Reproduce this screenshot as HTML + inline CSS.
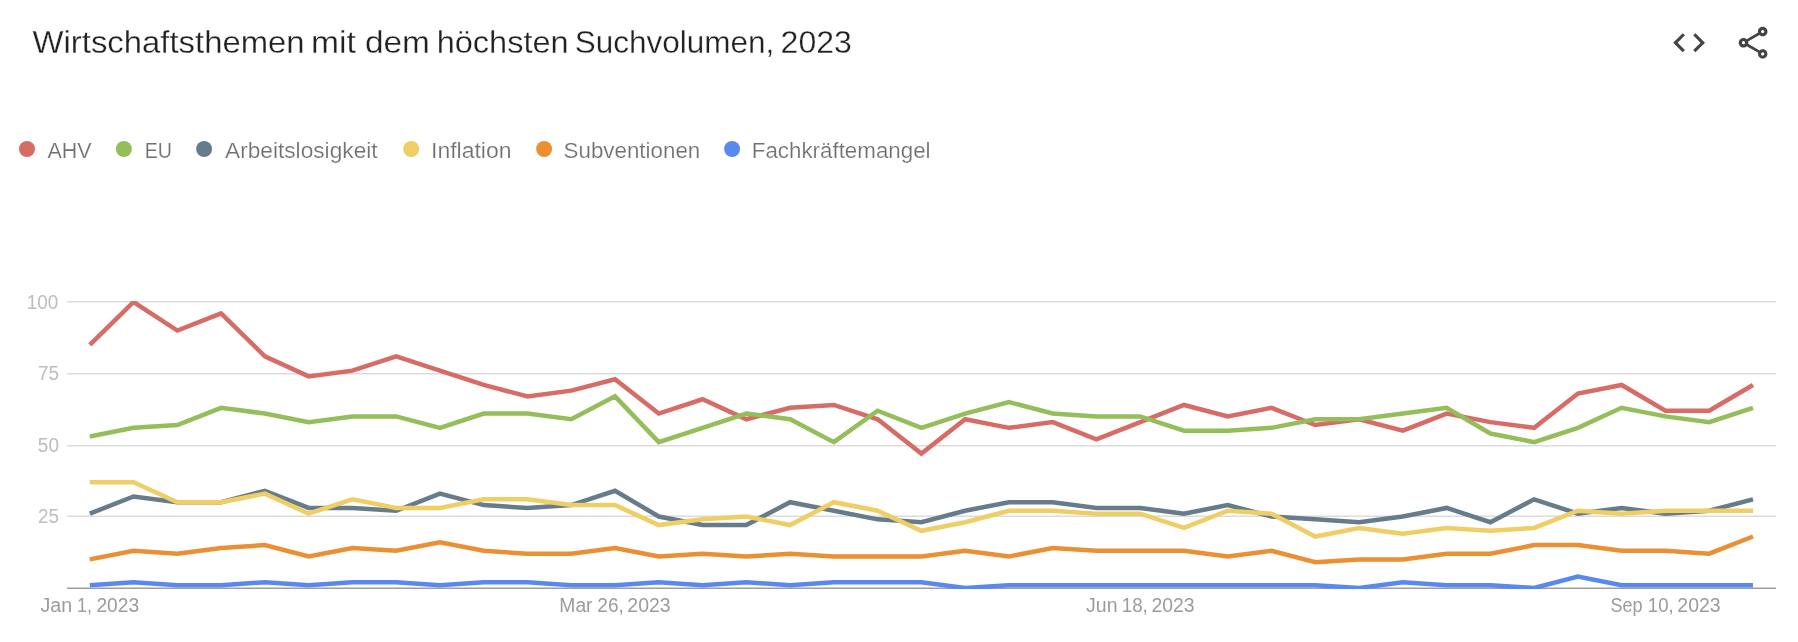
<!DOCTYPE html>
<html lang="de">
<head>
<meta charset="utf-8">
<title>Wirtschaftsthemen mit dem höchsten Suchvolumen, 2023</title>
<style>
html,body{margin:0;padding:0;background:#fff;}
body{width:1798px;height:642px;overflow:hidden;font-family:"Liberation Sans",sans-serif;}
svg{display:block;will-change:transform;}
text{font-family:"Liberation Sans",sans-serif;}
.title{font-size:31.6px;fill:#202124;stroke:#fff;stroke-width:0.3px;}
.leg{font-size:22.6px;fill:#707070;stroke:#fff;stroke-width:0.2px;}
.yl{font-size:19.3px;fill:#bdbdbd;}
.xl{font-size:19.6px;fill:#9c9c9c;}
.ln{fill:none;stroke-width:4.5;stroke-linejoin:miter;stroke-linecap:butt;}
</style>
</head>
<body>
<svg width="1798" height="642" viewBox="0 0 1798 642">
<rect width="1798" height="642" fill="#fff"/>
<text class="title" x="32.50" y="53.0" textLength="272.13" lengthAdjust="spacingAndGlyphs">Wirtschaftsthemen</text>
<text class="title" x="310.93" y="53.0" textLength="44.87" lengthAdjust="spacingAndGlyphs">mit</text>
<text class="title" x="365.01" y="53.0" textLength="64.93" lengthAdjust="spacingAndGlyphs">dem</text>
<text class="title" x="436.68" y="53.0" textLength="132.01" lengthAdjust="spacingAndGlyphs">höchsten</text>
<text class="title" x="574.77" y="53.0" textLength="199.55" lengthAdjust="spacingAndGlyphs">Suchvolumen,</text>
<text class="title" x="780.61" y="53.0" textLength="71.28" lengthAdjust="spacingAndGlyphs">2023</text>
<text class="leg" x="47.40" y="157.8" textLength="44.09" lengthAdjust="spacingAndGlyphs">AHV</text>
<text class="leg" x="144.73" y="157.8" textLength="27.26" lengthAdjust="spacingAndGlyphs">EU</text>
<text class="leg" x="225.00" y="157.8" textLength="152.60" lengthAdjust="spacingAndGlyphs">Arbeitslosigkeit</text>
<text class="leg" x="431.05" y="157.8" textLength="80.48" lengthAdjust="spacingAndGlyphs">Inflation</text>
<text class="leg" x="563.56" y="157.8" textLength="136.73" lengthAdjust="spacingAndGlyphs">Subventionen</text>
<text class="leg" x="751.77" y="157.8" textLength="178.80" lengthAdjust="spacingAndGlyphs">Fachkräftemangel</text>
<text class="yl" x="26.68" y="308.6" textLength="31.51" lengthAdjust="spacingAndGlyphs">100</text>
<text class="yl" x="38.05" y="379.7" textLength="21.01" lengthAdjust="spacingAndGlyphs">75</text>
<text class="yl" x="37.86" y="451.9" textLength="21.11" lengthAdjust="spacingAndGlyphs">50</text>
<text class="yl" x="38.09" y="522.7" textLength="21.01" lengthAdjust="spacingAndGlyphs">25</text>
<text class="xl" x="40.44" y="612.0" textLength="31.67" lengthAdjust="spacingAndGlyphs">Jan</text>
<text class="xl" x="77.03" y="612.0" textLength="14.99" lengthAdjust="spacingAndGlyphs">1,</text>
<text class="xl" x="96.41" y="612.0" textLength="42.69" lengthAdjust="spacingAndGlyphs">2023</text>
<text class="xl" x="559.30" y="612.0" textLength="33.25" lengthAdjust="spacingAndGlyphs">Mar</text>
<text class="xl" x="597.34" y="612.0" textLength="26.39" lengthAdjust="spacingAndGlyphs">26,</text>
<text class="xl" x="627.37" y="612.0" textLength="43.24" lengthAdjust="spacingAndGlyphs">2023</text>
<text class="xl" x="1086.00" y="612.0" textLength="31.53" lengthAdjust="spacingAndGlyphs">Jun</text>
<text class="xl" x="1121.74" y="612.0" textLength="26.11" lengthAdjust="spacingAndGlyphs">18,</text>
<text class="xl" x="1151.43" y="612.0" textLength="43.16" lengthAdjust="spacingAndGlyphs">2023</text>
<text class="xl" x="1610.42" y="612.0" textLength="32.13" lengthAdjust="spacingAndGlyphs">Sep</text>
<text class="xl" x="1647.82" y="612.0" textLength="25.85" lengthAdjust="spacingAndGlyphs">10,</text>
<text class="xl" x="1677.37" y="612.0" textLength="43.24" lengthAdjust="spacingAndGlyphs">2023</text>
<g fill="#444">
<path transform="translate(1670.0,23.6) scale(1.59)" d="M9.4 16.6L4.8 12l4.6-4.6L8 6l-6 6 6 6 1.4-1.4zm5.2 0l4.6-4.6-4.6-4.6L16 6l6 6-6 6-1.4-1.4z"/>
<path transform="translate(1733.9,23.5) scale(1.6)" d="M18 16.08c-.76 0-1.44.3-1.96.77L8.91 12.7c.05-.23.09-.46.09-.7s-.04-.47-.09-.7l7.05-4.11c.54.5 1.25.81 2.04.81 1.66 0 3-1.34 3-3s-1.34-3-3-3-3 1.34-3 3c0 .24.04.47.09.7L8.04 9.81C7.5 9.31 6.79 9 6 9c-1.66 0-3 1.34-3 3s1.340 3 3 3c.79 0 1.5-.31 2.04-.81l7.12 4.16c-.05.21-.08.43-.08.65 0 1.61 1.31 2.92 2.92 2.92s2.92-1.31 2.92-2.92c0-1.61-1.31-2.920-2.92-2.920zM18 4c.55 0 1 .45 1 1s-.45 1-1 1-1-.45-1-1 .45-1 1-1zM6 13c-.55 0-1-.45-1-1s.45-1 1-1 1 .45 1 1-.45 1-1 1zm12 7.02c-.55 0-1-.45-1-1s.45-1 1-1 1 .45 1 1-.45 1-1 1z"/>
</g>
<circle cx="27.0" cy="149" r="8" fill="#D66C65"/>
<circle cx="123.9" cy="149" r="8" fill="#93BE5A"/>
<circle cx="204.1" cy="149" r="8" fill="#667C8A"/>
<circle cx="411.2" cy="149" r="8" fill="#F0CE66"/>
<circle cx="544.1" cy="149" r="8" fill="#EC8F33"/>
<circle cx="732.1" cy="149" r="8" fill="#5989EE"/>
<rect x="67" y="301.0" width="1709" height="1.5" fill="#dcdcdc"/>
<rect x="67" y="373.0" width="1709" height="1.5" fill="#dcdcdc"/>
<rect x="67" y="445.0" width="1709" height="1.5" fill="#dcdcdc"/>
<rect x="67" y="515.5" width="1709" height="1.5" fill="#dcdcdc"/>
<rect x="67" y="587.5" width="1709" height="1.5" fill="#9e9e9e"/>
<defs><clipPath id="ca"><rect x="67" y="301" width="1709" height="288"/></clipPath></defs>
<g clip-path="url(#ca)">
<polyline class="ln" stroke="#D66C65" points="89.80,344.90 133.57,302.00 177.34,330.60 221.10,313.44 264.87,356.34 308.64,376.36 352.41,370.64 396.18,356.34 439.94,370.64 483.71,384.94 527.48,396.38 571.25,390.66 615.02,379.22 658.78,413.54 702.55,399.24 746.32,419.26 790.09,407.82 833.86,404.96 877.62,419.26 921.39,453.58 965.16,419.26 1008.93,427.84 1052.70,422.12 1096.46,439.28 1140.23,422.12 1184.00,404.96 1227.77,416.40 1271.54,407.82 1315.30,424.98 1359.07,419.26 1402.84,430.70 1446.61,413.54 1490.38,422.12 1534.14,427.84 1577.91,393.52 1621.68,384.94 1665.45,410.68 1709.22,410.68 1752.98,384.94"/>
<polyline class="ln" stroke="#93BE5A" points="89.80,436.42 133.57,427.84 177.34,424.98 221.10,407.82 264.87,413.54 308.64,422.12 352.41,416.40 396.18,416.40 439.94,427.84 483.71,413.54 527.48,413.54 571.25,419.26 615.02,396.38 658.78,442.14 702.55,427.84 746.32,413.54 790.09,419.26 833.86,442.14 877.62,410.68 921.39,427.84 965.16,413.54 1008.93,402.10 1052.70,413.54 1096.46,416.40 1140.23,416.40 1184.00,430.70 1227.77,430.70 1271.54,427.84 1315.30,419.26 1359.07,419.26 1402.84,413.54 1446.61,407.82 1490.38,433.56 1534.14,442.14 1577.91,427.84 1621.68,407.82 1665.45,416.40 1709.22,422.12 1752.98,407.82"/>
<polyline class="ln" stroke="#667C8A" points="89.80,513.64 133.57,496.48 177.34,502.20 221.10,502.20 264.87,490.76 308.64,507.92 352.41,507.92 396.18,510.78 439.94,493.62 483.71,505.06 527.48,507.92 571.25,505.06 615.02,490.76 658.78,516.50 702.55,525.08 746.32,525.08 790.09,502.20 833.86,510.78 877.62,519.36 921.39,522.22 965.16,510.78 1008.93,502.20 1052.70,502.20 1096.46,507.92 1140.23,507.92 1184.00,513.64 1227.77,505.06 1271.54,516.50 1315.30,519.36 1359.07,522.22 1402.84,516.50 1446.61,507.92 1490.38,522.22 1534.14,499.34 1577.91,513.64 1621.68,507.92 1665.45,513.64 1709.22,510.78 1752.98,499.34"/>
<polyline class="ln" stroke="#F0CE66" points="89.80,482.18 133.57,482.18 177.34,502.20 221.10,502.20 264.87,493.62 308.64,513.64 352.41,499.34 396.18,507.92 439.94,507.92 483.71,499.34 527.48,499.34 571.25,505.06 615.02,505.06 658.78,525.08 702.55,519.36 746.32,516.50 790.09,525.08 833.86,502.20 877.62,510.78 921.39,530.80 965.16,522.22 1008.93,510.78 1052.70,510.78 1096.46,513.64 1140.23,513.64 1184.00,527.94 1227.77,510.78 1271.54,513.64 1315.30,536.52 1359.07,527.94 1402.84,533.66 1446.61,527.94 1490.38,530.80 1534.14,527.94 1577.91,510.78 1621.68,513.64 1665.45,510.78 1709.22,510.78 1752.98,510.78"/>
<polyline class="ln" stroke="#EC8F33" points="89.80,559.40 133.57,550.82 177.34,553.68 221.10,547.96 264.87,545.10 308.64,556.54 352.41,547.96 396.18,550.82 439.94,542.24 483.71,550.82 527.48,553.68 571.25,553.68 615.02,547.96 658.78,556.54 702.55,553.68 746.32,556.54 790.09,553.68 833.86,556.54 877.62,556.54 921.39,556.54 965.16,550.82 1008.93,556.54 1052.70,547.96 1096.46,550.82 1140.23,550.82 1184.00,550.82 1227.77,556.54 1271.54,550.82 1315.30,562.26 1359.07,559.40 1402.84,559.40 1446.61,553.68 1490.38,553.68 1534.14,545.10 1577.91,545.10 1621.68,550.82 1665.45,550.82 1709.22,553.68 1752.98,536.52"/>
<polyline class="ln" stroke="#5989EE" points="89.80,585.14 133.57,582.28 177.34,585.14 221.10,585.14 264.87,582.28 308.64,585.14 352.41,582.28 396.18,582.28 439.94,585.14 483.71,582.28 527.48,582.28 571.25,585.14 615.02,585.14 658.78,582.28 702.55,585.14 746.32,582.28 790.09,585.14 833.86,582.28 877.62,582.28 921.39,582.28 965.16,588.00 1008.93,585.14 1052.70,585.14 1096.46,585.14 1140.23,585.14 1184.00,585.14 1227.77,585.14 1271.54,585.14 1315.30,585.14 1359.07,588.00 1402.84,582.28 1446.61,585.14 1490.38,585.14 1534.14,588.00 1577.91,576.56 1621.68,585.14 1665.45,585.14 1709.22,585.14 1752.98,585.14"/>
</g>
</svg>
</body>
</html>
